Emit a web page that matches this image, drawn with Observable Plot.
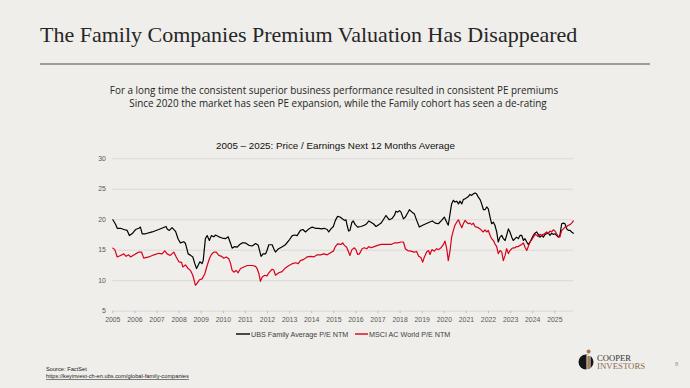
<!DOCTYPE html>
<html>
<head>
<meta charset="utf-8">
<script src="https://cdn.jsdelivr.net/npm/d3@7"></script>
<script src="https://cdn.jsdelivr.net/npm/@observablehq/plot@0.6"></script>
<style>
  html, body { margin: 0; padding: 0; background: #efeeea; }
  #slide { position: relative; width: 690px; height: 388px; overflow: hidden; background: #efeeea; }
  #deco { position: absolute; left: 0; top: 0; }
  #chart { position: absolute; left: 0; top: 150px; }
</style>
</head>
<body>
<div id="slide">
  <svg id="deco" width="690" height="388" xmlns="http://www.w3.org/2000/svg">
    <text x="40" y="42" font-family="Liberation Serif" font-size="22" fill="#262626">The Family Companies Premium Valuation Has Disappeared</text>
    <line x1="40" x2="650" y1="64" y2="64" stroke="#808080" stroke-width="1.5"/>
    <text x="334" y="94" text-anchor="middle" font-family="Open Sans" font-size="9.9" fill="#262626">For a long time the consistent superior business performance resulted in consistent PE premiums</text>
    <text x="338" y="106.5" text-anchor="middle" font-family="Open Sans" font-size="9.9" fill="#262626">Since 2020 the market has seen PE expansion, while the Family cohort has seen a de-rating</text>
    <text x="335.5" y="148.5" text-anchor="middle" font-family="Liberation Sans" font-size="9.8" fill="#111">2005 – 2025: Price / Earnings Next 12 Months Average</text>
    <line x1="236" x2="250" y1="334" y2="334" stroke="#000" stroke-width="1.4"/>
    <text x="251" y="336.5" font-family="Liberation Sans" font-size="7.2" fill="#404040">UBS Family Average P/E NTM</text>
    <line x1="355" x2="368" y1="334" y2="334" stroke="#d9001b" stroke-width="1.4"/>
    <text x="369" y="336.5" font-family="Liberation Sans" font-size="7.2" fill="#404040">MSCI AC World P/E NTM</text>
    <text x="46" y="371" font-family="Liberation Sans" font-size="5.7" fill="#222">Source: FactSet</text>
    <text x="46" y="378.3" font-family="Liberation Sans" font-size="5.7" fill="#222" text-decoration="underline">https://keyinvest-ch-en.ubs.com/global-family-companies</text>
    <circle cx="586" cy="362" r="7.5" fill="#151515"/>
    <rect x="586.5" y="355" width="4" height="15" fill="#efeeea"/>
    <rect x="587.3" y="356" width="2.6" height="13" fill="#a07a55"/>
    <circle cx="588.6" cy="351.5" r="2" fill="#a07a55"/>
    <text x="597" y="360.5" font-family="Liberation Serif" font-size="8.6" fill="#333">COOPER</text>
    <text x="597" y="369.3" font-family="Liberation Serif" font-size="8.8" fill="#8c6b4f">INVESTORS</text>
    <text x="675" y="366" font-family="Liberation Sans" font-size="6" fill="#999">8</text>
  </svg>
  <div id="chart"></div>
</div>
<script>
// Tick values
const yearTicks = [2005,2006,2007,2008,2009,2010,2011,2012,2013,2014,2015,2016,2017,2018,2019,2020,2021,2022,2023,2024,2025];
const peTicks = [5,10,15,20,25,30];

// UBS Family Average P/E NTM (decimal year, value)
const famDates = [2005.00,2005.12,2005.20,2005.35,2005.50,2005.65,2005.75,2005.87,2006.03,2006.18,2006.25,2006.33,2006.48,2006.78,2007.08,2007.41,2007.46,2007.56,2007.68,2007.84,2007.96,2008.06,2008.21,2008.29,2008.41,2008.51,2008.62,2008.71,2008.79,2008.86,2008.94,2009.04,2009.09,2009.19,2009.27,2009.37,2009.46,2009.57,2009.65,2009.80,2009.95,2010.10,2010.22,2010.33,2010.40,2010.52,2010.63,2010.73,2010.85,2011.00,2011.16,2011.31,2011.46,2011.58,2011.65,2011.71,2011.80,2011.91,2011.98,2012.06,2012.21,2012.29,2012.36,2012.48,2012.63,2012.81,2012.97,2013.12,2013.24,2013.34,2013.49,2013.60,2013.72,2013.87,2014.02,2014.17,2014.32,2014.44,2014.56,2014.70,2014.77,2014.87,2014.98,2015.07,2015.17,2015.28,2015.37,2015.48,2015.55,2015.60,2015.67,2015.73,2015.82,2015.88,2015.97,2016.08,2016.23,2016.38,2016.49,2016.58,2016.68,2016.79,2016.91,2017.03,2017.14,2017.24,2017.36,2017.44,2017.51,2017.63,2017.74,2017.81,2017.89,2017.97,2018.04,2018.15,2018.24,2018.34,2018.42,2018.54,2018.64,2018.75,2018.87,2019.02,2019.17,2019.32,2019.46,2019.59,2019.73,2019.88,2020.00,2020.11,2020.18,2020.26,2020.33,2020.41,2020.48,2020.56,2020.64,2020.71,2020.79,2020.86,2020.94,2021.01,2021.09,2021.16,2021.24,2021.31,2021.39,2021.46,2021.54,2021.62,2021.69,2021.77,2021.84,2021.92,2021.99,2022.07,2022.14,2022.22,2022.29,2022.37,2022.44,2022.52,2022.60,2022.67,2022.75,2022.82,2022.90,2022.97,2023.05,2023.12,2023.20,2023.27,2023.35,2023.43,2023.50,2023.58,2023.65,2023.73,2023.80,2023.88,2023.95,2024.03,2024.10,2024.18,2024.25,2024.33,2024.41,2024.48,2024.56,2024.63,2024.71,2024.78,2024.86,2024.93,2025.01,2025.08,2025.16,2025.23,2025.31,2025.39,2025.46,2025.54,2025.61,2025.69,2025.76,2025.84];
const famPE = [20.0,19.3,18.6,18.6,18.4,18.25,17.4,17.7,18.4,18.6,18.8,17.7,17.7,18.0,18.4,18.9,18.5,18.25,18.7,18.1,16.8,16.2,16.4,16.1,14.4,14.2,13.9,12.8,12.0,12.5,13.1,12.8,13.3,16.9,17.4,16.6,17.4,17.2,17.5,17.2,17.0,16.9,17.2,16.1,15.35,15.6,15.5,15.9,16.2,16.2,15.8,15.7,16.1,15.8,14.8,14.0,14.4,14.4,15.0,15.9,15.9,15.2,14.7,15.2,15.5,15.9,16.6,17.4,17.5,17.4,18.25,18.4,18.0,18.5,18.8,18.6,18.6,18.5,18.6,18.4,18.0,18.5,18.9,19.9,20.55,20.45,20.2,19.9,20.0,19.1,18.15,18.25,19.6,19.8,19.2,18.8,18.9,19.1,19.35,19.8,19.6,19.35,18.9,19.2,19.45,20.0,20.7,20.3,20.0,20.2,20.7,21.4,21.25,21.5,21.25,20.15,20.45,21.1,21.65,21.25,21.0,19.9,18.8,19.1,19.35,19.6,19.8,19.45,19.35,19.9,20.45,19.6,19.1,21.0,22.6,23.2,22.9,23.05,22.6,23.05,22.6,23.3,23.45,23.6,23.8,24.15,24.0,24.25,24.4,24.25,23.7,23.3,22.6,21.65,21.65,22.1,21.8,20.45,19.35,19.6,19.1,18.0,16.35,17.15,17.45,16.9,16.6,17.45,18.5,18.0,17.15,16.6,16.9,17.15,16.9,17.45,17.45,16.6,16.9,16.35,15.95,16.35,16.9,17.45,17.8,18.0,17.6,17.15,17.45,17.15,17.6,17.7,17.8,17.45,17.8,17.6,17.7,17.45,17.15,17.45,19.35,19.45,19.35,18.5,18.25,18.25,18.0,17.8];

// MSCI AC World P/E NTM (decimal year, value)
const msciDates = [2005.00,2005.09,2005.20,2005.35,2005.50,2005.60,2005.72,2005.80,2006.03,2006.18,2006.30,2006.40,2006.63,2006.86,2007.08,2007.23,2007.35,2007.46,2007.60,2007.76,2007.87,2007.99,2008.11,2008.17,2008.29,2008.41,2008.51,2008.62,2008.74,2008.82,2008.92,2009.04,2009.16,2009.27,2009.37,2009.46,2009.57,2009.68,2009.80,2009.92,2010.02,2010.13,2010.25,2010.33,2010.40,2010.48,2010.58,2010.67,2010.78,2010.93,2011.08,2011.31,2011.46,2011.53,2011.61,2011.68,2011.76,2011.88,2011.98,2012.06,2012.21,2012.29,2012.36,2012.51,2012.66,2012.81,2012.97,2013.12,2013.27,2013.39,2013.49,2013.64,2013.79,2013.94,2014.09,2014.25,2014.40,2014.56,2014.70,2014.85,2014.98,2015.07,2015.17,2015.32,2015.40,2015.48,2015.58,2015.67,2015.73,2015.82,2015.93,2016.00,2016.08,2016.16,2016.28,2016.38,2016.49,2016.58,2016.68,2016.83,2016.98,2017.14,2017.29,2017.44,2017.59,2017.74,2017.89,2018.04,2018.15,2018.24,2018.34,2018.49,2018.64,2018.75,2018.84,2018.94,2019.02,2019.09,2019.20,2019.29,2019.35,2019.44,2019.55,2019.65,2019.74,2019.85,2019.96,2020.03,2020.11,2020.18,2020.26,2020.33,2020.41,2020.48,2020.56,2020.64,2020.71,2020.79,2020.86,2020.94,2021.01,2021.09,2021.16,2021.24,2021.31,2021.39,2021.46,2021.54,2021.62,2021.69,2021.77,2021.84,2021.92,2021.99,2022.07,2022.14,2022.22,2022.29,2022.37,2022.44,2022.52,2022.60,2022.67,2022.75,2022.82,2022.90,2022.97,2023.05,2023.12,2023.20,2023.27,2023.35,2023.43,2023.50,2023.58,2023.65,2023.73,2023.80,2023.88,2023.95,2024.03,2024.10,2024.18,2024.25,2024.33,2024.41,2024.48,2024.56,2024.63,2024.71,2024.78,2024.86,2024.93,2025.01,2025.08,2025.16,2025.23,2025.31,2025.39,2025.46,2025.54,2025.61,2025.69,2025.76,2025.84];
const msciPE = [15.35,15.1,13.9,14.15,14.4,14.0,14.25,13.9,14.4,14.7,14.7,13.7,13.9,14.25,14.5,14.4,14.9,14.4,14.15,14.7,13.9,13.1,13.0,12.25,12.6,12.0,11.7,10.9,9.25,9.6,10.15,10.3,11.1,12.5,13.6,14.3,14.7,14.7,14.15,14.0,13.7,13.9,13.6,12.8,11.7,11.4,11.7,11.3,12.0,12.25,12.5,12.5,12.35,12.0,11.15,9.9,10.6,10.9,10.8,11.3,11.9,11.7,10.9,11.3,11.5,12.1,12.5,12.8,12.95,12.8,13.3,13.5,13.9,14.0,13.9,14.25,14.25,14.4,14.25,14.6,14.85,15.6,16.05,15.95,16.2,15.8,15.5,14.7,14.15,15.1,15.4,15.1,14.3,14.4,15.25,15.4,15.25,15.6,15.4,15.6,15.8,15.95,15.95,15.95,15.95,16.2,16.2,16.35,16.35,15.25,14.95,14.85,14.7,14.8,14.0,13.8,13.05,13.8,14.7,14.95,14.3,15.1,14.85,15.25,15.1,15.4,15.95,16.5,15.25,13.3,14.95,17.15,18.25,19.1,19.6,20.0,19.35,18.7,19.35,19.9,19.6,19.35,19.45,19.2,19.45,18.9,18.8,18.7,18.5,18.25,18.0,18.35,18.0,18.25,17.45,16.9,16.6,16.05,15.6,14.45,14.95,14.7,13.3,14.15,15.25,14.45,14.95,15.25,15.4,15.4,15.6,15.6,15.8,15.95,16.2,15.5,14.95,15.6,16.35,16.7,17.15,17.6,17.45,17.25,17.6,17.45,17.6,17.8,18.0,17.8,18.15,18.0,18.35,18.15,17.7,17.25,17.15,18.25,18.5,18.8,18.9,19.1,19.2,19.45,19.8];

const fam = famDates.map((d, i) => ({date: d, pe: famPE[i]}));
const msci = msciDates.map((d, i) => ({date: d, pe: msciPE[i]}));

const chart = Plot.plot({
  width: 690,
  height: 180,
  marginLeft: 112.3,
  marginRight: 116.9,
  marginTop: 8.3,
  marginBottom: 19.3,
  style: {background: "transparent", fontFamily: "Liberation Sans", fontSize: "6.9px", color: "#595959", overflow: "visible"},
  x: {domain: [2005, 2025.85], label: null},
  y: {domain: [5, 30], label: null},
  marks: [
    Plot.gridY(peTicks, {stroke: "#d9d9d9", strokeOpacity: 1, strokeWidth: 1}),
    Plot.axisY(peTicks, {tickSize: 0, tickPadding: 7, label: null, fill: "#595959"}),
    Plot.axisX(yearTicks, {tickSize: 2.5, tickPadding: 3, stroke: "#bfbfbf", tickFormat: d => String(d), label: null, fill: "#595959"}),
    Plot.line(fam, {x: "date", y: "pe", stroke: "#000000", strokeWidth: 1.2, curve: "linear"}),
    Plot.line(msci, {x: "date", y: "pe", stroke: "#d9001b", strokeWidth: 1.2, curve: "linear"})
  ]
});
document.getElementById("chart").appendChild(chart);
</script>
</body>
</html>
